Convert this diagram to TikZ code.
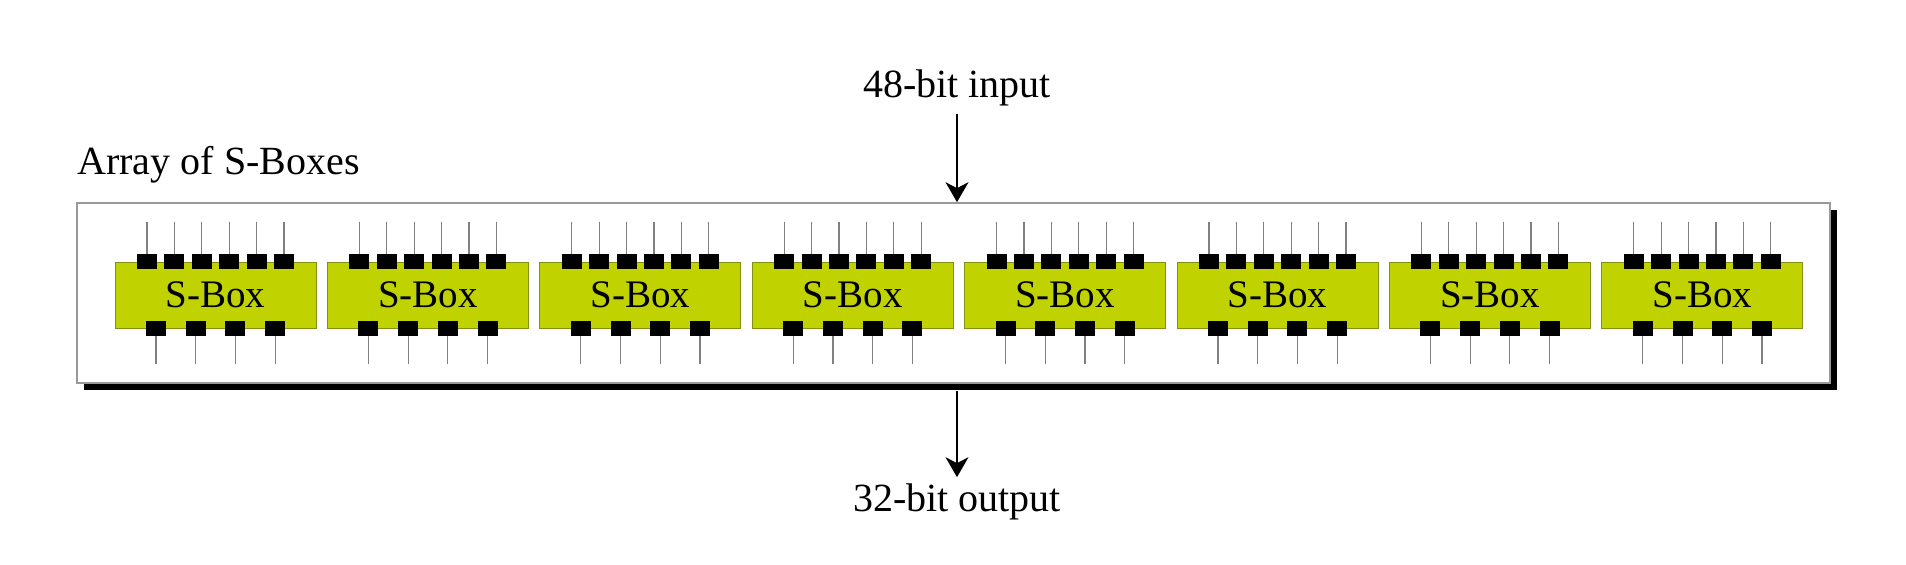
\documentclass[tikz,border=0pt]{standalone}
\usepackage{fontspec}
\setmainfont{Liberation Serif}
\usetikzlibrary{arrows.meta,shadows}
\definecolor{sboxgreen}{RGB}{192,210,0}
\definecolor{sboxedge}{RGB}{130,145,20}
\tikzset{
  sbox/.style={draw=sboxedge,fill=sboxgreen,minimum width=100.5pt,minimum height=33pt,inner sep=0pt,font=\fontsize{19.5}{22}\selectfont},
  pin/.style={fill=black,minimum width=10pt,minimum height=7.5pt,inner sep=0pt},
  wire/.style={draw=gray,line width=0.6pt},
  label/.style={font=\fontsize{20}{24}\selectfont,inner sep=0.3333em}
}
\begin{document}
\begin{tikzpicture}[x=0.5pt,y=-0.5pt]
\useasboundingbox (0,0) rectangle (1906,565);
\node[draw=gray!80,line width=0.8pt,fill=white,minimum width=876.5pt,minimum height=90pt,
  drop shadow={shadow xshift=3.5pt,shadow yshift=-3.5pt,fill=black,opacity=1}] (frame) at (953.5,293) {};
\node[label,anchor=base west,inner sep=0pt] (title) at (77,175) {Array of S-Boxes};
\node[label,anchor=base] (in) at (957,98) {48-bit input};
\node[label,anchor=base] (out) at (957,512) {32-bit output};
\node[sbox] (S1) at (215.5,295) {S-Box};
\node[sbox] (S2) at (427.9,295) {S-Box};
\node[sbox] (S3) at (640.3,295) {S-Box};
\node[sbox] (S4) at (852.7,295) {S-Box};
\node[sbox] (S5) at (1065.1,295) {S-Box};
\node[sbox] (S6) at (1277.5,295) {S-Box};
\node[sbox] (S7) at (1489.9,295) {S-Box};
\node[sbox] (S8) at (1702.3,295) {S-Box};
\foreach \b in {1,...,8}{
  \foreach \k in {0,...,5}{
    \node[pin] (T\b-\k) at ([xshift=-34.25pt+\k*13.7pt]S\b.north) {};
    \coordinate (TT\b-\k) at ([yshift=16pt]T\b-\k.north);
    \draw[wire] (TT\b-\k) -- (T\b-\k.north);
  }
  \foreach \k in {0,...,3}{
    \node[pin] (B\b-\k) at ([xshift=-29.75pt+\k*19.85pt]S\b.south) {};
    \coordinate (BB\b-\k) at ([yshift=-14pt]B\b-\k.south);
    \draw[wire] (B\b-\k.south) -- (BB\b-\k);
  }
}
\draw[-{Stealth[length=10pt,width=11.5pt,inset=3pt]},line width=0.6pt] (in) -- (in |- frame.north);
\draw[-{Stealth[length=10pt,width=11.5pt,inset=3pt]},line width=0.6pt] ([yshift=-3.5pt]frame.south -| out) -- (out);
\end{tikzpicture}
\end{document}
